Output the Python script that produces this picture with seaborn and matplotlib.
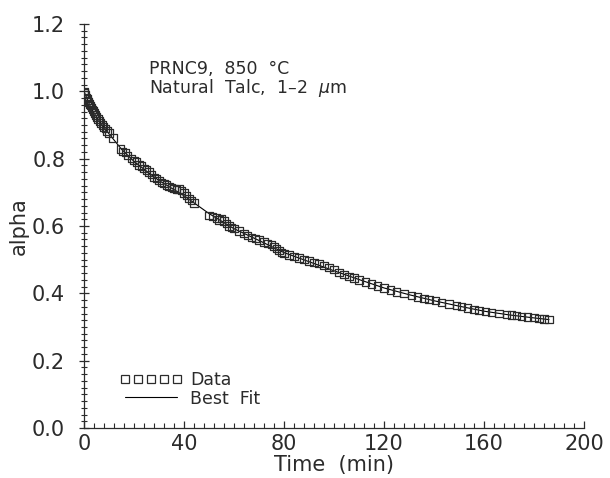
import numpy as np
import pandas as pd
import seaborn as sns
import matplotlib.pyplot as plt
from matplotlib.lines import Line2D
from matplotlib.ticker import MultipleLocator

# measured points (time in min, alpha)
data_time = [0, 0.3, 0.6, 0.9, 1.2, 1.5, 1.8, 2.1, 2.5, 2.9, 3.3, 3.7, 4.1, 4.6, 5.1, 5.6,
             6.1, 6.7, 7.3, 7.9, 8.5, 9.2, 10, 11.6, 14.5, 15.5, 16.5, 17.5, 19, 20, 21, 22,
             23, 24, 25, 26, 27, 28, 29, 30, 31, 32, 33, 34, 35, 36, 37, 38, 39, 40, 41, 42,
             43, 44, 50, 51.5, 53, 54, 55, 56, 57, 58, 59, 60, 62, 64, 65.5, 67, 68.5, 70,
             72, 73.5, 75, 76, 77, 78, 79, 80, 82, 84, 86, 88, 90, 92, 94, 96, 98, 100, 102,
             104, 106, 108, 110, 112.5, 115, 117.5, 120, 122.5, 125, 128, 131, 133.5, 136,
             138, 140.5, 143, 146, 149, 151, 153.5, 156, 158, 160.5, 163, 166, 169, 171,
             173, 175, 177.5, 180, 182, 184, 186]
data_alpha = [1.00, 0.995, 0.99, 0.982, 0.978, 0.972, 0.968, 0.962, 0.958, 0.952, 0.946,
              0.942, 0.936, 0.930, 0.924, 0.918, 0.912, 0.906, 0.900, 0.894, 0.889, 0.882,
              0.876, 0.861, 0.829, 0.822, 0.818, 0.810, 0.800, 0.795, 0.790, 0.781, 0.778,
              0.770, 0.766, 0.760, 0.752, 0.745, 0.742, 0.735, 0.730, 0.727, 0.722, 0.718,
              0.715, 0.712, 0.708, 0.710, 0.705, 0.698, 0.690, 0.682, 0.676, 0.668, 0.632,
              0.628, 0.624, 0.618, 0.622, 0.615, 0.608, 0.600, 0.596, 0.592, 0.585, 0.578,
              0.572, 0.566, 0.563, 0.558, 0.552, 0.548, 0.545, 0.540, 0.534, 0.528, 0.522,
              0.518, 0.514, 0.510, 0.505, 0.500, 0.496, 0.492, 0.488, 0.482, 0.476, 0.470,
              0.462, 0.455, 0.450, 0.446, 0.440, 0.434, 0.428, 0.422, 0.416, 0.410, 0.404,
              0.400, 0.394, 0.389, 0.385, 0.382, 0.378, 0.372, 0.368, 0.364, 0.360, 0.356,
              0.352, 0.349, 0.346, 0.344, 0.341, 0.338, 0.336, 0.334, 0.332, 0.330, 0.328,
              0.326, 0.324, 0.322]

# best fit curve
fit_time = [0, 1, 2, 3, 5, 7.5, 10, 15, 20, 25, 30, 40, 50, 60, 70, 80, 90, 100, 110,
            120, 130, 140, 150, 160, 170, 180, 186]
fit_alpha = [1.0, 0.982, 0.964, 0.948, 0.924, 0.898, 0.874, 0.828, 0.792, 0.763, 0.735,
             0.690, 0.637, 0.592, 0.557, 0.521, 0.494, 0.467, 0.441, 0.416, 0.396, 0.378,
             0.362, 0.347, 0.336, 0.327, 0.322]

xticks = [0, 40, 80, 120, 160, 200]
yticks = [0.0, 0.2, 0.4, 0.6, 0.8, 1.0, 1.2]

df = pd.DataFrame({'time': data_time, 'alpha': data_alpha})
fit = pd.DataFrame({'time': fit_time, 'alpha': fit_alpha})

sns.set_style('ticks')
plt.rcParams['font.family'] = ['DejaVu Sans']
ink = '#2b2b2b'

fig = plt.figure(figsize=(6.1, 4.78), dpi=100)
ax = fig.add_axes([0.1377, 0.1046, 0.8197, 0.8452])

sns.lineplot(data=fit, x='time', y='alpha', ax=ax, color='black', linewidth=0.8)
sns.scatterplot(data=df, x='time', y='alpha', ax=ax, marker='s', s=28,
                facecolor='none', edgecolor=ink, linewidth=0.9, zorder=3)

ax.set_xlim(0, 200)
ax.set_ylim(0, 1.2)
ax.set_xticks(xticks)
ax.set_yticks(yticks)
ax.set_xticklabels([str(v) for v in xticks])
ax.set_yticklabels(['%.1f' % v for v in yticks])
ax.xaxis.set_minor_locator(MultipleLocator(4))
ax.yaxis.set_minor_locator(MultipleLocator(0.02))

ax.tick_params(axis='x', which='major', direction='in', length=5, width=0.9,
               pad=4, labelsize=15, colors=ink)
ax.tick_params(axis='x', which='minor', direction='in', length=3.5, width=0.8, color=ink)
ax.tick_params(axis='y', which='major', direction='inout', length=7, width=0.9,
               pad=10, labelsize=15, colors=ink)
ax.tick_params(axis='y', which='minor', direction='inout', length=4.5, width=0.8, color=ink)

sns.despine(ax=ax)
for sp in ['left', 'bottom']:
    ax.spines[sp].set_linewidth(0.9)
    ax.spines[sp].set_color(ink)

ax.set_xlabel('Time  (min)', fontsize=15, color=ink, labelpad=1)
ax.set_ylabel('alpha', fontsize=15, color=ink, labelpad=2)

ax.text(26, 1.05, 'PRNC9,  850  °C', fontsize=12.5, color=ink)
ax.text(26, 0.995, 'Natural  Talc,  1–2  $\\mu$m', fontsize=12.5, color=ink)

handles = [Line2D([], [], marker='s', linestyle='None', markersize=5.3,
                  markerfacecolor='none', markeredgecolor=ink, markeredgewidth=0.9),
           Line2D([], [], color='black', linewidth=0.8)]
ax.legend(handles, ['Data', 'Best  Fit'], loc='lower left', bbox_to_anchor=(0.04, 0.012),
          frameon=False, numpoints=5, fontsize=12.5, handlelength=3.6, handletextpad=0.45,
          labelspacing=0.05, labelcolor=ink)

fig.savefig('out.png', dpi=100)
